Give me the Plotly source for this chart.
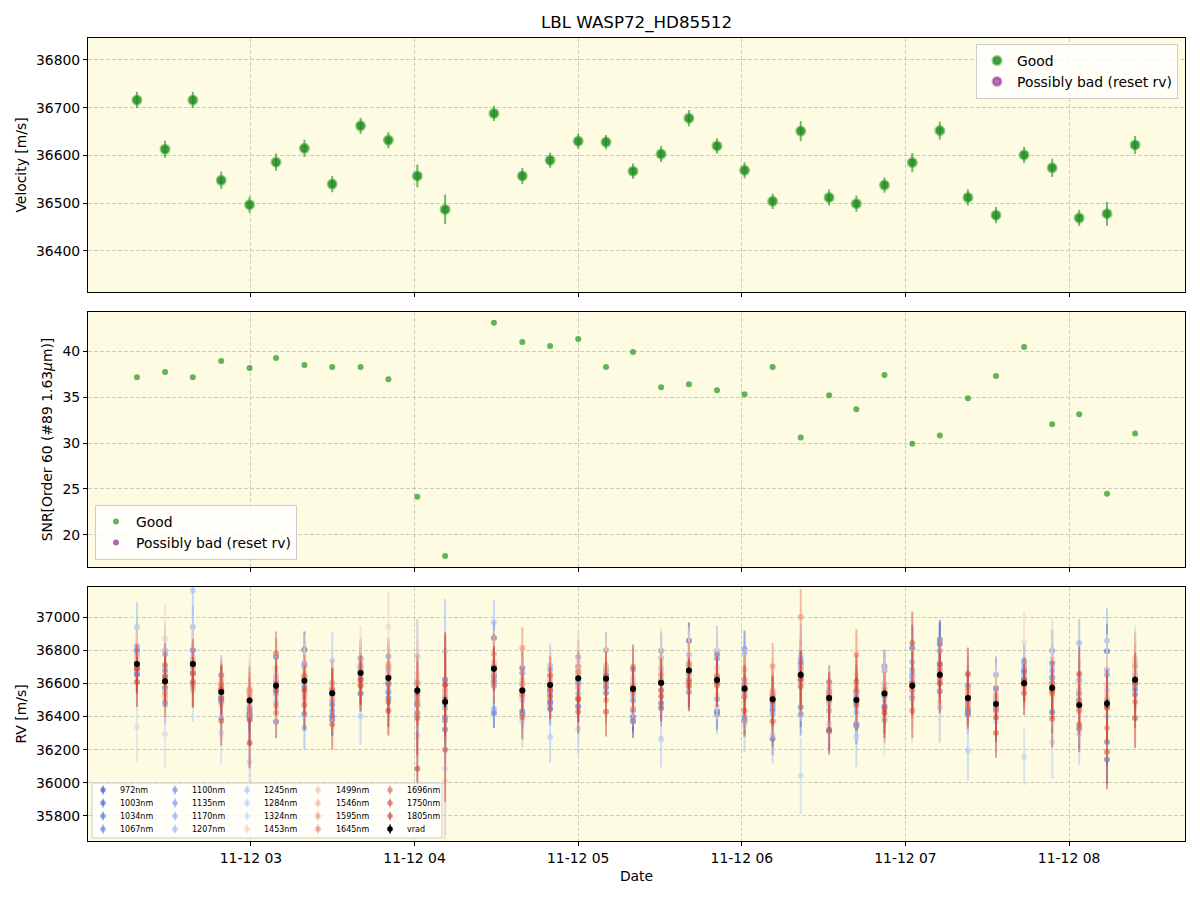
import plotly.graph_objects as go
from plotly.subplots import make_subplots

# ---------------- data ----------------
TIMES = [
    "2023-11-12 02:18:12", "2023-11-12 02:28:30", "2023-11-12 02:38:42", "2023-11-12 02:49:06",
    "2023-11-12 02:59:30", "2023-11-12 03:09:12", "2023-11-12 03:19:36", "2023-11-12 03:29:48",
    "2023-11-12 03:40:12", "2023-11-12 03:50:24", "2023-11-12 04:01:00", "2023-11-12 04:11:12",
    "2023-11-12 04:29:06", "2023-11-12 04:39:30", "2023-11-12 04:49:42", "2023-11-12 05:00:00",
    "2023-11-12 05:10:12", "2023-11-12 05:20:06", "2023-11-12 05:30:24", "2023-11-12 05:40:36",
    "2023-11-12 05:50:54", "2023-11-12 06:01:00", "2023-11-12 06:11:18", "2023-11-12 06:21:36",
    "2023-11-12 06:32:00", "2023-11-12 06:42:00", "2023-11-12 06:52:18", "2023-11-12 07:02:30",
    "2023-11-12 07:12:36", "2023-11-12 07:22:54", "2023-11-12 07:33:12", "2023-11-12 07:43:30",
    "2023-11-12 07:53:48", "2023-11-12 08:03:42", "2023-11-12 08:13:54", "2023-11-12 08:24:12",
]

VELOCITY = [36716, 36613, 36716, 36548, 36497, 36586, 36615, 36540, 36662, 36632, 36557, 36487,
            36688, 36557, 36590, 36630, 36628, 36567, 36603, 36678, 36620, 36569, 36504, 36651,
            36512, 36499, 36538, 36585, 36652, 36512, 36475, 36601, 36574, 36469, 36478, 36622]
VELOCITY_ERR = [17, 18, 17, 18, 17, 18, 18, 17, 17, 17, 24, 31, 16, 17, 16, 16, 15, 16,
                17, 17, 16, 17, 16, 21, 17, 17, 16, 20, 19, 17, 17, 17, 19, 17, 25, 19]

SNR = [37.16, 37.71, 37.16, 38.91, 38.14, 39.24, 38.47, 38.25, 38.25, 36.94, 24.16, 17.71,
       43.06, 40.98, 40.55, 41.31, 38.25, 39.89, 36.07, 36.39, 35.74, 35.30, 38.25, 30.60,
       35.19, 33.66, 37.38, 29.93, 30.81, 34.86, 37.27, 40.44, 32.03, 33.12, 24.49, 31.04]

# no epoch is flagged "possibly bad": this series is empty (placeholder keeps the legend entry)
BAD_TIMES = [None]
BAD_VALUES = [None]

WAVELENGTHS = ["972nm", "1003nm", "1034nm", "1067nm", "1100nm", "1135nm", "1170nm", "1207nm",
               "1245nm", "1284nm", "1324nm", "1453nm", "1499nm", "1546nm", "1595nm", "1645nm",
               "1696nm", "1750nm", "1805nm"]

RV_972 = [36801, 36572, 36662, 36512, 36421, 36761, 36803, 36405, 36538, 36548, 36606, 36622,
          36873, 36692, 36447, 36461, 36652, 36371, 36451, 36857, 36431, 36592, 36441, 36723,
          36311, 36548, 36461, 36813, 36837, 36441, 36480, 36620, 36425, 36327, 36793, 36566]
RV_1003 = [36700, 36642, 36720, 36648, 36397, 36369, 36582, 36381, 36749, 36512, 36421, 36321,
           36421, 36431, 36491, 36700, 36576, 36399, 36481, 36680, 36777, 36375, 36266, 36640,
           36608, 36355, 36530, 36512, 36863, 36421, 36500, 36682, 36723, 36536, 36140, 36600]
RV_1034 = [36652, 36676, 36799, 36491, 36451, 36590, 36415, 36471, 36700, 36600, 36477, 36395,
           36642, 36415, 36477, 36620, 36542, 36437, 36600, 36548, 36415, 36395, 36471, 36455,
           36552, 36341, 36703, 36600, 36552, 36586, 36572, 36666, 36632, 36491, 36246, 36532]
RV_1067 = [36660, 36487, 36700, 36500, 36410, 36540, 36707, 36435, 36660, 36640, 36500, 36375,
           36586, 36662, 36560, 36600, 36680, 36496, 36620, 36700, 36749, 36540, 36500, 36415,
           36500, 36512, 36520, 36640, 36720, 36411, 36440, 36600, 36600, 36470, 36500, 36620]
RV_1100 = [36823, 36777, 36740, 36520, 36440, 36600, 36719, 36500, 36680, 36763, 36467, 36520,
           36640, 36560, 36682, 36759, 36801, 36680, 36797, 36720, 36505, 36809, 36530, 36749,
           36540, 36461, 36676, 36682, 36797, 36520, 36652, 36737, 36797, 36622, 36652, 36602]
RV_1135 = [36700, 36471, 36800, 36391, 36470, 36480, 36640, 36540, 36640, 36680, 36530, 36450,
           36447, 36600, 36540, 36660, 36620, 36560, 36560, 36660, 36620, 36600, 36417, 36680,
           36435, 36530, 36560, 36729, 36680, 36480, 36562, 36723, 36676, 36500, 36682, 36650]
RV_1170 = [36780, 36612, 36940, 36560, 36530, 36640, 36331, 36560, 36700, 36590, 36540, 36500,
           36700, 36540, 36709, 36540, 36700, 36520, 36753, 36773, 36600, 36783, 36460, 36700,
           36480, 36425, 36540, 36660, 36700, 36500, 36520, 36640, 36640, 36843, 36857, 36580]
RV_1207 = [36940, 36799, 37160, 36480, 36380, 36560, 36700, 36490, 36720, 36700, 36763, 36793,
           36968, 36500, 36600, 36600, 36660, 36600, 36680, 36690, 36799, 36560, 36540, 36777,
           36560, 36500, 36600, 36620, 36640, 36560, 36460, 36700, 36560, 36560, 36560, 36723]
RV_1245 = [36823, 36700, 36760, 36600, 36560, 36532, 36620, 36737, 36401, 36620, 36600, 36470,
           36620, 36371, 36278, 36325, 36640, 36640, 36264, 36640, 36461, 36355, 36286, 36660,
           36355, 36280, 36500, 36652, 36455, 36194, 36440, 36620, 36700, 36294, 36401, 36640]
RV_1284 = [36720, 36560, 36556, 36300, 36126, 36620, 36560, 36520, 36680, 36560, 36284, 36085,
           36660, 36600, 36620, 36680, 36600, 36560, 36700, 36620, 36700, 36620, 36520, 36043,
           36520, 36540, 36560, 36540, 36660, 36540, 36371, 36156, 36246, 36440, 36600, 36660]
RV_1324 = [36337, 36294, 36700, 36540, 36470, 36502, 36600, 36600, 36650, 36650, 36560, 36540,
           36690, 36560, 36650, 36640, 36610, 36620, 36640, 36700, 36640, 36520, 36480, 36620,
           36500, 36480, 36375, 36580, 36620, 36530, 36500, 36600, 36580, 36520, 36460, 36700]
RV_1453 = [36740, 36869, 36751, 36467, 36572, 36662, 36690, 36512, 36739, 36940, 36652, 36009,
           36733, 36522, 36600, 36729, 36700, 36626, 36729, 36729, 36682, 36542, 36542, 36650,
           36467, 36656, 36582, 36502, 36487, 36542, 36480, 36843, 36753, 36460, 36582, 36668]
RV_1499 = [36733, 36650, 36737, 36620, 36540, 36692, 36662, 36502, 36713, 36668, 36622, 36562,
           36700, 36550, 36620, 36690, 36713, 36612, 36692, 36700, 36532, 36580, 36530, 36662,
           36510, 36500, 36560, 36612, 36640, 36540, 36502, 36620, 36532, 36480, 36532, 36652]
RV_1546 = [36763, 36600, 36680, 36616, 36520, 36622, 36640, 36530, 36692, 36719, 36592, 36536,
           36720, 36622, 36640, 36650, 36682, 36590, 36620, 36680, 36652, 36600, 36562, 36622,
           36540, 36540, 36572, 36560, 36656, 36568, 36532, 36598, 36596, 36598, 36512, 36749]
RV_1595 = [36720, 36518, 36572, 36578, 36546, 36461, 36506, 36572, 36670, 36700, 36512, 36560,
           36660, 36592, 36600, 36576, 36640, 36451, 36600, 36660, 36622, 36682, 36550, 36692,
           36582, 36586, 36528, 36590, 36622, 36520, 36470, 36610, 36560, 36455, 36480, 36700]
RV_1645 = [36690, 36540, 36590, 36560, 36560, 36421, 36532, 36602, 36626, 36640, 36560, 36592,
           36777, 36813, 36580, 36672, 36498, 36540, 36652, 36713, 36600, 36626, 36703, 37000,
           36530, 36773, 36381, 36560, 36680, 36500, 36431, 36580, 36600, 36500, 36331, 36620]
RV_1696 = [36686, 36711, 36660, 36590, 36500, 36783, 36642, 36560, 36596, 36600, 36540, 36500,
           36700, 36530, 36648, 36512, 36600, 36580, 36556, 36620, 36586, 36518, 36520, 36640,
           36500, 36560, 36540, 36435, 36640, 36461, 36450, 36600, 36540, 36435, 36450, 36487]
RV_1750 = [36686, 36640, 36717, 36375, 36381, 36600, 36471, 36351, 36582, 36487, 36391, 36200,
           36612, 36397, 36560, 36429, 36429, 36699, 36522, 36606, 36640, 36435, 36371, 36582,
           36516, 36612, 36447, 36843, 36713, 36500, 36301, 36542, 36387, 36351, 36186, 36600]
RV_1805 = [36608, 36610, 36608, 36560, 36240, 36560, 36560, 36540, 36620, 36435, 36085, 36592,
           36690, 36560, 36520, 36502, 36640, 36560, 36600, 36582, 36610, 36560, 36490, 36620,
           36321, 36480, 36421, 36600, 36600, 36656, 36395, 36622, 36560, 36656, 36460, 36391]

ERR_100 = [100, 100, 100, 100, 100, 100, 100, 100, 100, 100, 150, 210, 90, 90, 90, 90, 100, 90,
           100, 100, 100, 100, 100, 120, 100, 110, 100, 125, 120, 105, 100, 90, 115, 110, 150, 120]
ERR_110 = [110, 110, 110, 110, 110, 110, 110, 110, 110, 110, 165, 230, 100, 100, 100, 100, 110, 100,
           110, 110, 110, 110, 110, 130, 110, 120, 110, 140, 130, 115, 110, 100, 125, 120, 165, 130]
ERR_120 = [120, 120, 120, 120, 120, 120, 120, 120, 120, 120, 180, 250, 110, 110, 110, 110, 120, 110,
           120, 120, 120, 120, 120, 145, 120, 130, 120, 150, 145, 125, 120, 110, 140, 130, 180, 145]
ERR_130 = [130, 130, 130, 130, 130, 130, 130, 130, 130, 130, 195, 275, 115, 115, 115, 115, 130, 115,
           130, 130, 130, 130, 130, 155, 130, 145, 130, 165, 155, 135, 130, 115, 150, 145, 195, 155]
ERR_140 = [140, 140, 140, 140, 140, 140, 140, 140, 140, 140, 210, 295, 125, 125, 125, 125, 140, 125,
           140, 140, 140, 140, 140, 170, 140, 155, 140, 175, 170, 145, 140, 125, 160, 155, 210, 170]
ERR_150 = [150, 150, 150, 150, 150, 150, 150, 150, 150, 150, 225, 315, 135, 135, 135, 135, 150, 135,
           150, 150, 150, 150, 150, 180, 150, 165, 150, 190, 180, 160, 150, 135, 175, 165, 225, 180]
ERR_170 = [170, 170, 170, 170, 170, 170, 170, 170, 170, 170, 255, 355, 155, 155, 155, 155, 170, 155,
           170, 170, 170, 170, 170, 205, 170, 185, 170, 215, 205, 180, 170, 155, 195, 185, 255, 205]
ERR_190 = [190, 190, 190, 190, 190, 190, 190, 190, 190, 190, 285, 400, 170, 170, 170, 170, 190, 170,
           190, 190, 190, 190, 190, 230, 190, 210, 190, 240, 230, 200, 190, 170, 220, 210, 285, 230]
ERR_210 = [210, 210, 210, 210, 210, 210, 210, 210, 210, 210, 315, 440, 190, 190, 190, 190, 210, 190,
           210, 210, 210, 210, 210, 250, 210, 230, 210, 260, 250, 220, 210, 190, 240, 230, 315, 250]

RV_BY_WAVE = [RV_972, RV_1003, RV_1034, RV_1067, RV_1100, RV_1135, RV_1170, RV_1207, RV_1245,
              RV_1284, RV_1324, RV_1453, RV_1499, RV_1546, RV_1595, RV_1645, RV_1696, RV_1750, RV_1805]
ERR_BY_WAVE = [ERR_110, ERR_100, ERR_100, ERR_110, ERR_110, ERR_120, ERR_130, ERR_150, ERR_170,
               ERR_190, ERR_210, ERR_210, ERR_150, ERR_130, ERR_120, ERR_140, ERR_130, ERR_150, ERR_150]

# coolwarm-like colours, one per wavelength
WAVE_RGB = [(59, 76, 192), (70, 93, 206), (81, 108, 219), (94, 125, 231), (107, 141, 240),
            (122, 157, 248), (137, 172, 253), (152, 186, 255), (168, 198, 253), (184, 208, 248),
            (201, 216, 237), (238, 208, 190), (245, 194, 169), (247, 176, 146), (244, 155, 123),
            (236, 133, 104), (224, 108, 84), (210, 84, 68), (196, 62, 56)]

FONT = "DejaVu Sans"
BG = "rgb(253,251,225)"
GRID = "rgba(170,170,170,0.55)"
ALPHA = 0.55

fig = make_subplots(rows=3, cols=1, shared_xaxes=True)

# ---- top panel: velocity
fig.add_trace(go.Scatter(
    x=TIMES, y=VELOCITY, mode="markers", name="Good", legend="legend",
    marker=dict(color="rgba(20,135,20,0.8)", size=8,
                line=dict(color="rgba(40,150,40,0.5)", width=3)),
    error_y=dict(type="data", array=VELOCITY_ERR, color="rgba(40,150,40,0.65)",
                 thickness=2, width=0),
), row=1, col=1)
fig.add_trace(go.Scatter(
    x=BAD_TIMES, y=BAD_VALUES, mode="markers", name="Possibly bad (reset rv)", legend="legend",
    marker=dict(color="rgba(128,0,128,0.55)", size=8,
                line=dict(color="rgba(128,0,128,0.35)", width=3)),
), row=1, col=1)

# ---- middle panel: SNR
fig.add_trace(go.Scatter(
    x=TIMES, y=SNR, mode="markers", name="Good", legend="legend2",
    marker=dict(color="rgba(30,150,30,0.7)", size=6),
), row=2, col=1)
fig.add_trace(go.Scatter(
    x=BAD_TIMES, y=BAD_VALUES, mode="markers", name="Possibly bad (reset rv)", legend="legend2",
    marker=dict(color="rgba(128,0,128,0.6)", size=6),
), row=2, col=1)

# ---- bottom panel: per-wavelength RVs
for name, rv, err, rgb in zip(WAVELENGTHS, RV_BY_WAVE, ERR_BY_WAVE, WAVE_RGB):
    col = "rgba(%d,%d,%d,%.2f)" % (rgb[0], rgb[1], rgb[2], ALPHA)
    fig.add_trace(go.Scatter(
        x=TIMES, y=rv, mode="markers", name=name, showlegend=False,
        marker=dict(color=col, size=6),
        error_y=dict(type="data", array=err, color=col, thickness=2, width=0),
    ), row=3, col=1)
fig.add_trace(go.Scatter(
    x=TIMES, y=VELOCITY, mode="markers", name="vrad", showlegend=False,
    marker=dict(color="black", size=6),
    error_y=dict(type="data", array=VELOCITY_ERR, color="black", thickness=1.5, width=0),
), row=3, col=1)

# ---------------- layout ----------------
W, H = 1200, 900
ML, MR, MT, MB = 88, 15, 38, 59
PW, PH = W - ML - MR, H - MT - MB


def px_x(px):
    return (px - ML) / PW


def px_y(py):
    return (H - MB - py) / PH


TICKFONT = dict(size=13.9, family=FONT, color="black")
xcommon = dict(
    type="date", range=["2023-11-12 02:00:15", "2023-11-12 08:42:30"],
    tick0="2023-11-12 00:00:00", dtick=3600000, tickformat="%m-%d %H",
    showgrid=True, gridcolor=GRID, griddash="4px,2px", gridwidth=1,
    ticks="outside", ticklen=4, tickwidth=1, tickcolor="black",
    showline=True, linecolor="black", linewidth=1, mirror=True, zeroline=False,
    tickfont=TICKFONT, automargin=False,
)
ycommon = dict(
    showgrid=True, gridcolor=GRID, griddash="4px,2px", gridwidth=1,
    ticks="outside", ticklen=4, tickwidth=1, tickcolor="black",
    showline=True, linecolor="black", linewidth=1, mirror=True, zeroline=False,
    tickfont=TICKFONT, tickformat="d", automargin=False,
)

fig.update_xaxes(**xcommon)
fig.update_yaxes(**ycommon)
fig.update_layout(
    xaxis=dict(showticklabels=False),
    xaxis2=dict(showticklabels=False),
    xaxis3=dict(showticklabels=True,
                title=dict(text="Date", font=TICKFONT, standoff=6)),
    yaxis=dict(domain=[px_y(292), 1.0], range=[36314, 36846],
               tickvals=[36400, 36500, 36600, 36700, 36800],
               title=dict(text="Velocity [m/s]", font=TICKFONT, standoff=6)),
    yaxis2=dict(domain=[px_y(567), px_y(312)], range=[16.52, 44.24],
                tickvals=[20, 25, 30, 35, 40],
                title=dict(text="SNR[Order 60 (#89 1.63<i>μ</i>m)]", font=TICKFONT, standoff=6)),
    yaxis3=dict(domain=[0.0, px_y(587)], range=[35649, 37181],
                tickvals=[35800, 36000, 36200, 36400, 36600, 36800, 37000],
                title=dict(text="RV [m/s]", font=TICKFONT, standoff=6)),
)

fig.update_layout(
    width=W, height=H,
    margin=dict(l=ML, r=MR, t=MT, b=MB, autoexpand=False),
    paper_bgcolor="white", plot_bgcolor=BG,
    font=dict(family=FONT, size=13.9, color="black"),
    title=dict(text="LBL WASP72_HD85512", x=px_x(636.5), xref="paper",
               y=1 - 22 / H, yref="container", yanchor="middle", xanchor="center",
               font=dict(size=16.7, family=FONT, color="black")),
    legend=dict(x=px_x(1178), y=px_y(44), xanchor="right", yanchor="top",
                bgcolor="rgba(255,255,255,0.8)", bordercolor="#cccccc", borderwidth=1,
                font=TICKFONT),
    legend2=dict(x=px_x(95), y=px_y(560), xanchor="left", yanchor="bottom",
                 bgcolor="rgba(255,255,255,0.8)", bordercolor="#cccccc", borderwidth=1,
                 font=TICKFONT),
)

# ---- hand-built multi-column legend for the RV panel (column-first order)
shapes = [dict(type="rect", xref="paper", yref="paper", layer="above",
               x0=px_x(92), x1=px_x(442), y0=px_y(838), y1=px_y(783),
               fillcolor="rgba(255,255,255,0.8)", line=dict(color="#cccccc", width=1))]
annotations = []
COL_MARK = [103, 175, 247, 318, 390]
COL_TEXT = [118, 190, 262, 334, 405]
ROW_Y = [790, 803, 816, 829]
legend_items = [(n, "rgba(%d,%d,%d,%.2f)" % (c[0], c[1], c[2], 0.6)) for n, c in zip(WAVELENGTHS, WAVE_RGB)]
legend_items.append(("vrad", "black"))
for k, (name, col) in enumerate(legend_items):
    ci, ri = k // 4, k % 4
    xa, ya = px_x(COL_MARK[ci]), px_y(ROW_Y[ri])
    shapes.append(dict(type="line", xref="paper", yref="paper", layer="above",
                       xsizemode="pixel", ysizemode="pixel", xanchor=xa, yanchor=ya,
                       x0=0, x1=0, y0=-4.5, y1=4.5, line=dict(color=col, width=1.5)))
    shapes.append(dict(type="circle", xref="paper", yref="paper", layer="above",
                       xsizemode="pixel", ysizemode="pixel", xanchor=xa, yanchor=ya,
                       x0=-2.8, x1=2.8, y0=-2.8, y1=2.8, fillcolor=col, line=dict(width=0)))
    annotations.append(dict(text=name, xref="paper", yref="paper", x=px_x(COL_TEXT[ci]), y=ya,
                            xanchor="left", yanchor="middle", showarrow=False,
                            font=dict(size=8, family=FONT, color="black")))
fig.update_layout(shapes=shapes, annotations=annotations)

fig.write_html("out.html", config={"displayModeBar": False},
               post_script="document.body.style.margin='0';")
